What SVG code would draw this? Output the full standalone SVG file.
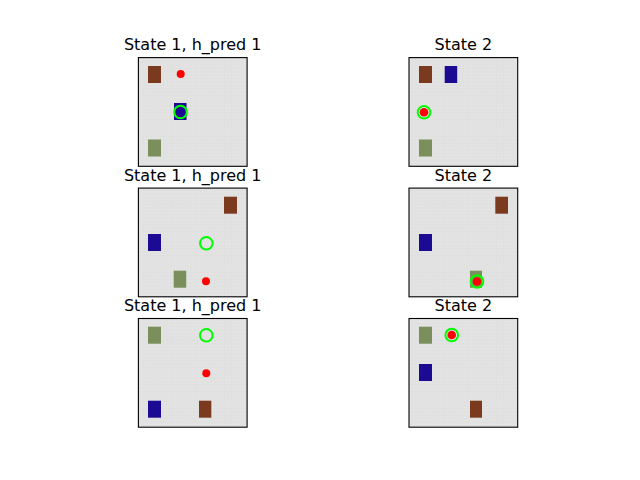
<svg xmlns="http://www.w3.org/2000/svg" width="640" height="480" viewBox="0 0 640 480">
<defs>
<pattern id="grid" x="0" y="0" width="3.4" height="3.4" patternUnits="userSpaceOnUse">
<rect width="3.4" height="3.4" fill="#e3e3e3"/>
<path d="M0 0.2H3.4M0.2 0V3.4" stroke="#dadcda" stroke-width="0.5"/>
</pattern>
</defs>
<style>
.t{font-family:"DejaVu Sans",sans-serif;font-size:16px;text-anchor:middle;fill:#000}
.ax{fill:url(#grid);stroke:#000;stroke-width:1.1}
.br{fill:#7b3a1e}
.bl{fill:#1c0b92}
.gr{fill:#7a8f5c}
.rd{fill:#ff0000}
.ring{fill:none;stroke:#00ff00;stroke-width:2}
</style>
<rect width="640" height="480" fill="#fff"/>

<g id="panel1">
<text class="t" x="192.7" y="50">State 1, h_pred 1</text>
<rect class="ax" x="138.4" y="57.6" width="108.7" height="108.7"/>
<rect class="br" x="148" y="66" width="13" height="17"/>
<rect class="bl" x="174" y="103" width="12.5" height="17"/>
<rect class="gr" x="148" y="139.5" width="13" height="17"/>
<circle class="rd" cx="180.7" cy="74" r="4"/>
<circle cx="180.5" cy="112" r="5" fill="#1c0b92"/>
<circle class="ring" cx="180.5" cy="112" r="6.3"/>
</g>

<g id="panel2">
<text class="t" x="463.3" y="50">State 2</text>
<rect class="ax" x="409" y="57.6" width="108.7" height="108.7"/>
<rect class="br" x="419" y="66" width="13" height="17"/>
<rect class="bl" x="444.7" y="66" width="12.5" height="17"/>
<rect class="gr" x="419" y="139.5" width="13" height="17"/>
<circle class="rd" cx="424" cy="112.3" r="4.3"/>
<circle class="ring" cx="424" cy="112.3" r="6.3"/>
</g>

<g id="panel3">
<text class="t" x="192.7" y="180.5">State 1, h_pred 1</text>
<rect class="ax" x="138.4" y="188.1" width="108.7" height="108.7"/>
<rect class="br" x="224" y="196.7" width="13" height="17"/>
<rect class="bl" x="148" y="234" width="13" height="17"/>
<rect class="gr" x="173.7" y="270.7" width="12.5" height="17"/>
<circle class="rd" cx="206" cy="281.3" r="4"/>
<circle class="ring" cx="206.3" cy="243.3" r="6.3"/>
</g>

<g id="panel4">
<text class="t" x="463.3" y="180.5">State 2</text>
<rect class="ax" x="409" y="188.1" width="108.7" height="108.7"/>
<rect class="br" x="495.3" y="196.7" width="12.7" height="17"/>
<rect class="bl" x="419" y="234" width="13" height="17"/>
<rect class="gr" x="470" y="270.7" width="12" height="17"/>
<circle class="rd" cx="477" cy="281.5" r="4.3"/>
<circle class="ring" cx="477" cy="281.5" r="6.3"/>
</g>

<g id="panel5">
<text class="t" x="192.7" y="311">State 1, h_pred 1</text>
<rect class="ax" x="138.4" y="318.5" width="108.7" height="108.7"/>
<rect class="gr" x="148" y="326.7" width="13" height="17"/>
<rect class="bl" x="148" y="400.7" width="13" height="17"/>
<rect class="br" x="199" y="400.7" width="12.3" height="17"/>
<circle class="rd" cx="206.3" cy="373.3" r="4"/>
<circle class="ring" cx="206.3" cy="335.3" r="6.3"/>
</g>

<g id="panel6">
<text class="t" x="463.3" y="311">State 2</text>
<rect class="ax" x="409" y="318.5" width="108.7" height="108.7"/>
<rect class="gr" x="419" y="326.7" width="13" height="17"/>
<rect class="bl" x="419" y="364" width="13" height="17"/>
<rect class="br" x="470" y="400.7" width="12" height="17"/>
<circle class="rd" cx="451.7" cy="335" r="4.3"/>
<circle class="ring" cx="451.7" cy="335" r="6.3"/>
</g>

<g id="connectors"></g>
</svg>
